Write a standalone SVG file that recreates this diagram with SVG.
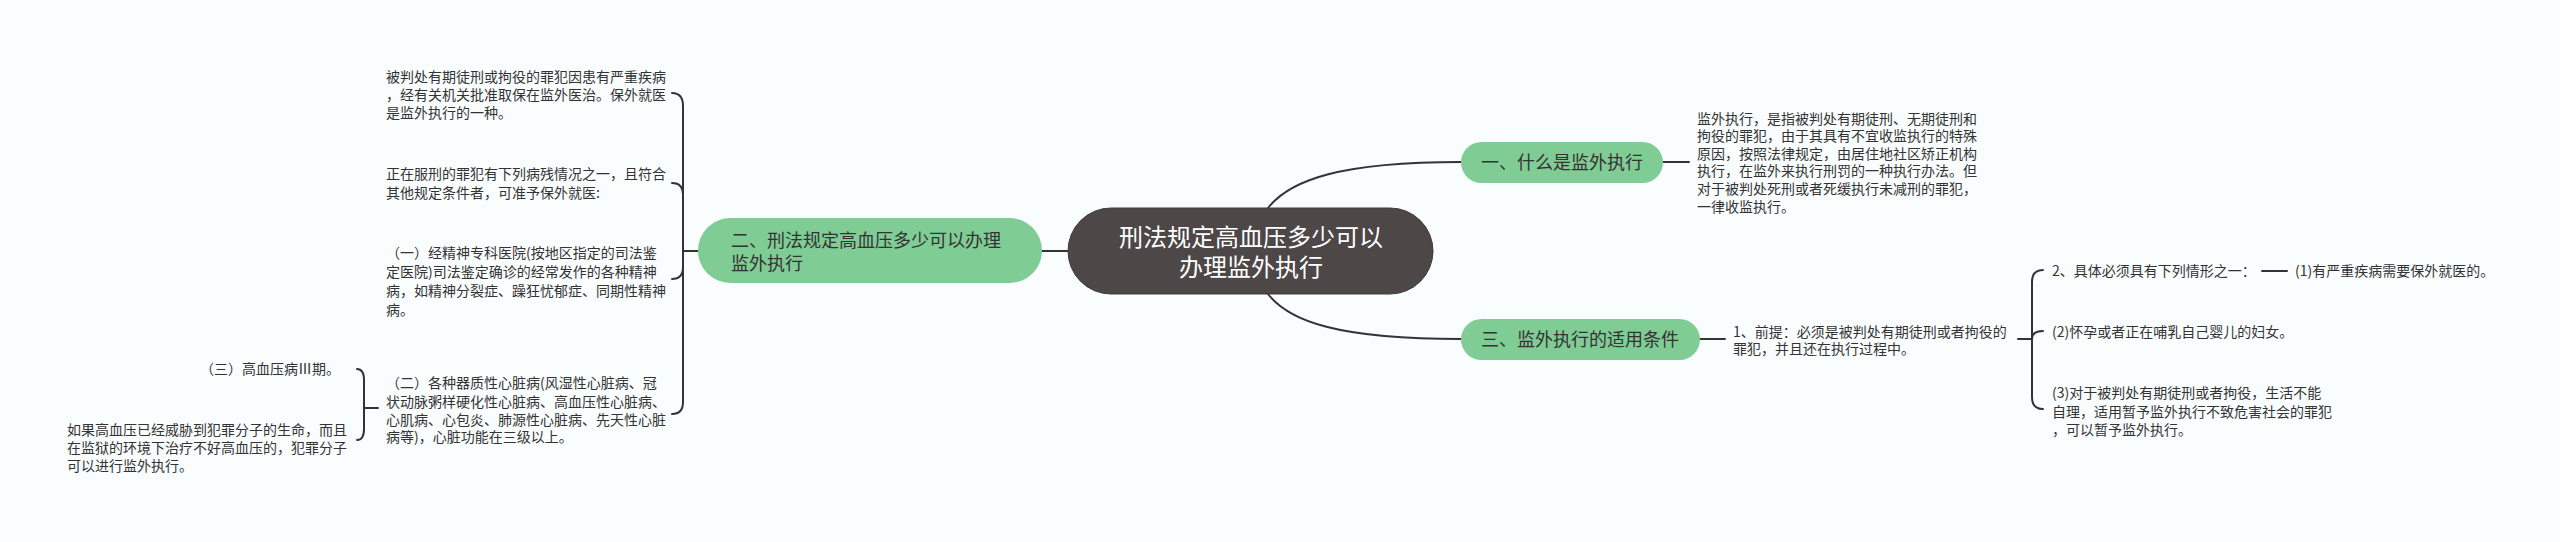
<svg xmlns="http://www.w3.org/2000/svg" width="2560" height="542" viewBox="0 0 2560 542">
<style>
.t{font-family:"Noto Sans CJK SC","Liberation Sans",sans-serif;font-size:14px;fill:#333333}
.n{font-family:"Noto Sans CJK SC","Liberation Sans",sans-serif;font-size:18px;fill:#333333}
.c{font-family:"Noto Sans CJK SC","Liberation Sans",sans-serif;font-size:24px;fill:#ffffff}
.g{fill:#80cc95}
.w{fill:none;stroke:#333333;stroke-width:2;stroke-linecap:round}
</style>
<rect width="2560" height="542" fill="#f9fdfe"/>
<g id="connectors" class="w">
<path d="M1042,251 L1068,251"/>
<path d="M1268,208 C1290,180 1340,162 1461,162"/>
<path d="M1268,294 C1290,322 1340,339 1461,339"/>
<path d="M1663,162 L1689,162"/>
<path d="M1700,339 L1725,339"/>
<path d="M2018,339 L2032,339"/>
<path d="M2032,339 L2032,282 Q2032,270 2043,270"/>
<path d="M2032,339 Q2032,331 2043,331"/>
<path d="M2032,339 L2032,397 Q2032,409 2043,409"/>
<path d="M2262,271 L2287,271"/>
<path d="M698,251 L683,251"/>
<path d="M683,251 L683,106 Q683,93 672,93"/>
<path d="M683,251 L683,195 Q683,183 672,183"/>
<path d="M683,251 L683,267 Q683,279 672,279"/>
<path d="M683,251 L683,402 Q683,414 672,414"/>
<path d="M378,408 L364,408"/>
<path d="M364,408 L364,380 Q364,369 357,369"/>
<path d="M364,408 L364,429 Q364,440 357,440"/>
</g>
<g id="center">
<rect x="1068" y="208" width="365" height="86" rx="43" fill="#4d4747" stroke="#3f3a3a" stroke-width="1"/>
<text class="c" x="1251" y="246" text-anchor="middle">刑法规定高血压多少可以</text>
<text class="c" x="1251" y="276" text-anchor="middle">办理监外执行</text>
</g>
<g id="node-er">
<rect class="g" x="698" y="218" width="344" height="65" rx="32.5"/>
<text class="n" x="731" y="247">二、刑法规定高血压多少可以办理</text>
<text class="n" x="731" y="270">监外执行</text>
</g>
<g id="node-yi">
<rect class="g" x="1461" y="142" width="202" height="41" rx="20.5"/>
<text class="n" x="1562" y="169" text-anchor="middle">一、什么是监外执行</text>
</g>
<g id="node-san">
<rect class="g" x="1461" y="319" width="239" height="41" rx="20.5"/>
<text class="n" x="1580" y="346" text-anchor="middle">三、监外执行的适用条件</text>
</g>
<g id="text-a">
<text class="t" x="386" y="82">被判处有期徒刑或拘役的罪犯因患有严重疾病</text>
<text class="t" x="386" y="100">，经有关机关批准取保在监外医治。保外就医</text>
<text class="t" x="386" y="118">是监外执行的一种。</text>
</g>
<g id="text-b">
<text class="t" x="386" y="179">正在服刑的罪犯有下列病残情况之一，且符合</text>
<text class="t" x="386" y="198">其他规定条件者，可准予保外就医:</text>
</g>
<g id="text-c">
<text class="t" x="386" y="258">（一）经精神专科医院(按地区指定的司法鉴</text>
<text class="t" x="386" y="277">定医院)司法鉴定确诊的经常发作的各种精神</text>
<text class="t" x="386" y="296">病，如精神分裂症、躁狂忧郁症、同期性精神</text>
<text class="t" x="386" y="315">病。</text>
</g>
<g id="text-d">
<text class="t" x="386" y="388">（二）各种器质性心脏病(风湿性心脏病、冠</text>
<text class="t" x="386" y="407">状动脉粥样硬化性心脏病、高血压性心脏病、</text>
<text class="t" x="386" y="425">心肌病、心包炎、肺源性心脏病、先天性心脏</text>
<text class="t" x="386" y="442">病等)，心脏功能在三级以上。</text>
</g>
<g id="text-san3">
<text class="t" x="340" y="374" text-anchor="end">（三）高血压病Ⅲ期。</text>
</g>
<g id="text-e">
<text class="t" x="67" y="435">如果高血压已经威胁到犯罪分子的生命，而且</text>
<text class="t" x="67" y="453">在监狱的环境下治疗不好高血压的，犯罪分子</text>
<text class="t" x="67" y="471">可以进行监外执行。</text>
</g>
<g id="text-f">
<text class="t" x="1697" y="124">监外执行，是指被判处有期徒刑、无期徒刑和</text>
<text class="t" x="1697" y="141">拘役的罪犯，由于其具有不宜收监执行的特殊</text>
<text class="t" x="1697" y="159">原因，按照法律规定，由居住地社区矫正机构</text>
<text class="t" x="1697" y="176">执行，在监外来执行刑罚的一种执行办法。但</text>
<text class="t" x="1697" y="194">对于被判处死刑或者死缓执行未减刑的罪犯，</text>
<text class="t" x="1697" y="212">一律收监执行。</text>
</g>
<g id="text-g">
<text class="t" x="1733" y="337">1、前提：必须是被判处有期徒刑或者拘役的</text>
<text class="t" x="1733" y="354">罪犯，并且还在执行过程中。</text>
</g>
<g id="text-h">
<text class="t" x="2052" y="276">2、具体必须具有下列情形之一：</text>
</g>
<g id="text-i">
<text class="t" x="2295" y="276">(1)有严重疾病需要保外就医的。</text>
</g>
<g id="text-j">
<text class="t" x="2052" y="337">(2)怀孕或者正在哺乳自己婴儿的妇女。</text>
</g>
<g id="text-k">
<text class="t" x="2052" y="398">(3)对于被判处有期徒刑或者拘役，生活不能</text>
<text class="t" x="2052" y="417">自理，适用暂予监外执行不致危害社会的罪犯</text>
<text class="t" x="2052" y="435">，可以暂予监外执行。</text>
</g>
</svg>
